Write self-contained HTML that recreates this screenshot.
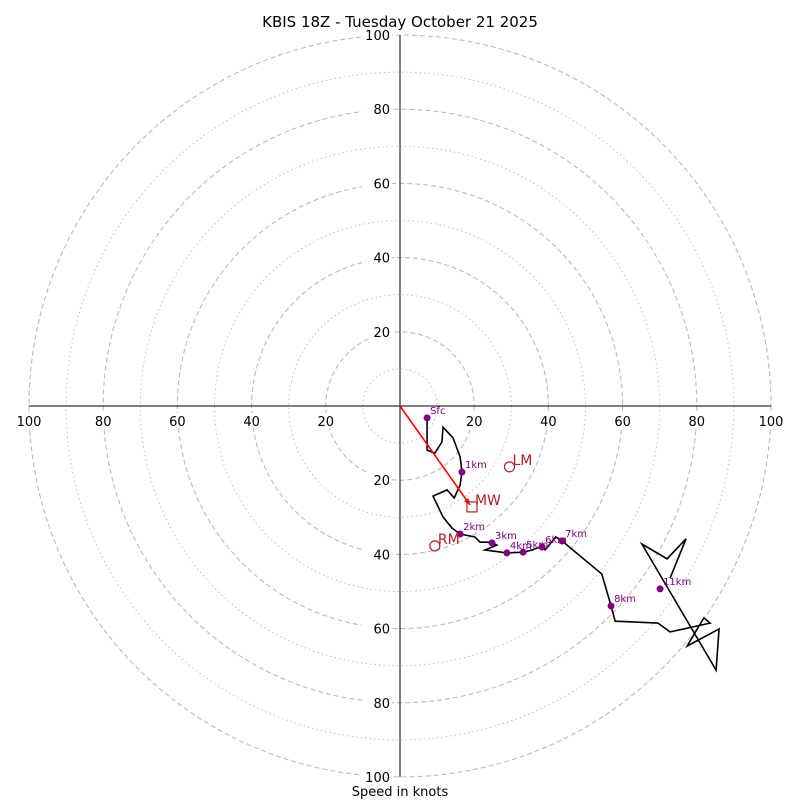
<!DOCTYPE html>
<html><head><meta charset="utf-8"><style>body{margin:0;background:#fff}svg{display:block;font-family:"DejaVu Sans","Liberation Sans",sans-serif}</style></head>
<body>
<svg id="c" width="800" height="800">
<text x="400" y="27" text-anchor="middle" font-size="15">KBIS 18Z - Tuesday October 21 2025</text>
<text x="400" y="796" text-anchor="middle" font-size="13">Speed in knots</text>
<g id="g"></g>
</svg>
<script>
const uData=[7.3,7.3,9.4,11.3,11.6,14.3,16.2,16.7,16.2,14.6,12.7,8.9,11.6,14.0,16.2,20.2,21.6,23.5,24.8,26.1,22.9,28.8,33.2,35.6,36.9,38.3,39.1,42.0,43.7,54.4,56.9,58.0,69.5,72.8,80.1,83.6,81.9,77.4,86.0,85.2,65.2,72.0,77.1,72.8];
const vData=[-3.2,-11.9,-12.7,-9.7,-5.7,-8.6,-13.7,-17.8,-21.3,-24.8,-22.6,-24.3,-29.9,-32.9,-34.5,-35.3,-36.7,-36.7,-36.9,-37.5,-38.8,-39.6,-39.4,-38.8,-38.3,-38.0,-38.8,-35.3,-36.4,-45.3,-53.9,-58.0,-58.5,-60.9,-59.3,-58.5,-57.1,-64.7,-60.1,-71.2,-37.2,-41.2,-35.8,-46.4];
const hLabels=["Sfc","1km","2km","3km","4km","5km","6km","7km","8km","11km"];
const hU=[7.3,16.7,16.2,24.8,28.8,33.2,38.3,43.7,56.9,70.1];
const hV=[-3.2,-17.8,-34.5,-36.9,-39.6,-39.4,-38.0,-36.4,-53.9,-49.3];
const motionNames=["LM","MW","RM"];
const motionU=[29.5,19.4,9.4];
const motionV=[-16.4,-27.2,-37.7];
const ringTicks=[20,40,60,80,100];
const NS="http://www.w3.org/2000/svg";
const cx=400,cy=406,R=371,maxK=100;
const sx=u=>cx+u*R/maxK, sy=v=>cy-v*R/maxK;
const g=document.getElementById('g');
function mk(t,a){const e=document.createElementNS(NS,t);for(const k in a)e.setAttribute(k,a[k]);g.appendChild(e);return e;}
for(let k=10;k<=100;k+=10){
 const e=mk('circle',{cx:cx,cy:cy,r:k*R/maxK,fill:'none',stroke:'#bbb','stroke-width':k%20?0.9:1.1,'stroke-dasharray':k%20?'1.5,3':'5,3'});
 
 
}
let e=mk('line',{x1:29,y1:cy,x2:771,y2:cy,stroke:'#000','stroke-width':1});


e=mk('line',{x1:cx,y1:35,x2:cx,y2:777,stroke:'#000','stroke-width':1});


ringTicks.forEach(k=>{
 [-1,1].forEach(s=>{
  const x=sx(s*k);
  const r=mk('rect',{x:x-13,y:cy+7,width:26,height:15,fill:'#fff'});
  
  
  const t=mk('text',{x:x,y:cy+20,'text-anchor':'middle','font-size':13});
  t.textContent=k;
  
  
  const y=sy(s*k);
  const r2=mk('rect',{x:362,y:y-8,width:30,height:15,fill:'#fff'});
  
  
  const t2=mk('text',{x:390,y:y+5,'text-anchor':'end','font-size':13});
  t2.textContent=k;
  
  
 });
});
const p=mk('polyline',{points:uData.map((u,i)=>sx(u)+','+sy(vData[i])).join(' '),fill:'none',stroke:'#000','stroke-width':1.6,'stroke-linejoin':'miter'});


const ax=sx(motionU[1])-2,ay=sy(motionV[1])-2;
e=mk('line',{x1:cx,y1:cy,x2:ax,y2:ay,stroke:'red','stroke-width':1.6});


const ang=Math.atan2(ay-cy,ax-cx);
e=mk('polygon',{points:[ax,ay,ax-7*Math.cos(ang-0.4),ay-7*Math.sin(ang-0.4),ax-7*Math.cos(ang+0.4),ay-7*Math.sin(ang+0.4)].join(','),fill:'red'});


hLabels.forEach((l,i)=>{
 const x=sx(hU[i]),y=sy(hV[i]);
 const d=mk('circle',{cx:x,cy:y,r:3.5,fill:'purple'});
 
 
 const t=mk('text',{x:x+3,y:y-4,'font-size':10,fill:'purple'});
 t.textContent=l;
 
 
});
motionNames.forEach((n,i)=>{
 const x=sx(motionU[i]),y=sy(motionV[i]);
 let m;
 if(n==='MW')m=mk('rect',{x:x-5,y:y-5,width:10,height:10,fill:'none',stroke:'#b22222','stroke-width':1.2});
 else m=mk('circle',{cx:x,cy:y,r:5,fill:'none',stroke:'#b22222','stroke-width':1.2});
 
 
 const t=mk('text',{x:x+3,y:y-2,'font-size':14,fill:'#b22222'});
 t.textContent=n;
 
 
});
</script>
</body></html>
